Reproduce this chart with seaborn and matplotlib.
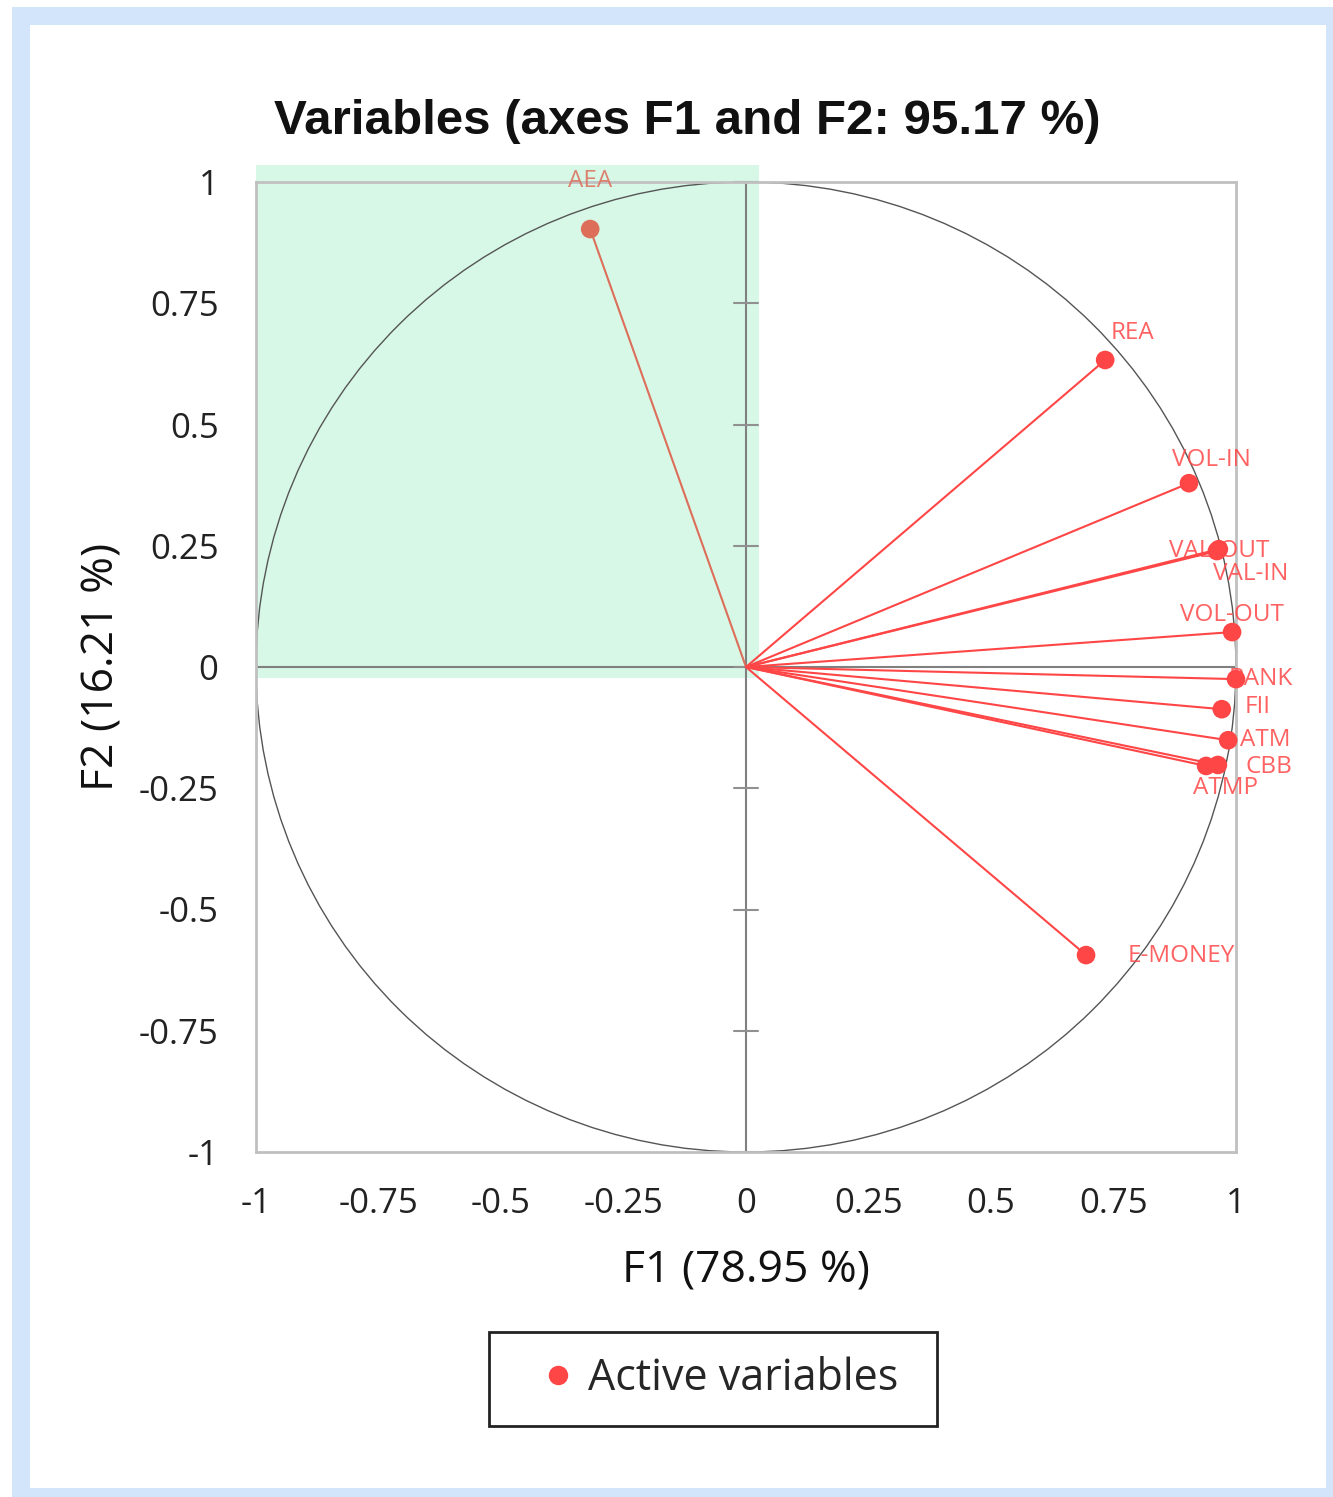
import numpy as np
import pandas as pd
import matplotlib
matplotlib.use("Agg")
import matplotlib.pyplot as plt
import seaborn as sns
from matplotlib.patches import Rectangle, Circle
from matplotlib.lines import Line2D

# loadings
variables = ["AEA", "REA", "VOL-IN", "VAL-OUT", "VAL-IN", "VOL-OUT",
             "BANK", "FII", "ATM", "CBB", "ATMP", "E-MONEY"]
f1 = [-0.318, 0.733, 0.904, 0.965, 0.961, 0.992, 1.000, 0.971, 0.984, 0.963, 0.939, 0.694]
f2 = [0.903, 0.633, 0.379, 0.243, 0.239, 0.072, -0.025, -0.087, -0.151, -0.202, -0.204, -0.594]
ticks = [-1, -0.75, -0.5, -0.25, 0, 0.25, 0.5, 0.75, 1]
tick_labels = ["-1", "-0.75", "-0.5", "-0.25", "0", "0.25", "0.5", "0.75", "1"]

df = pd.DataFrame({"var": variables, "F1": f1, "F2": f2})

# label offsets in pixels (style only)
offsets = {"AEA": (0, 48), "REA": (27, 27), "VOL-IN": (22, 23), "VAL-OUT": (0, -2),
           "VAL-IN": (34, -23), "VOL-OUT": (0, 17), "BANK": (25, 0), "FII": (36, 2),
           "ATM": (37, 0), "CBB": (51, -2), "ATMP": (19, -22), "E-MONEY": (95, -1)}
red = "#ff4646"
colors = {v: red for v in variables}
colors["AEA"] = "#dc6e5a"

sns.set_style("white")
plt.rcParams["font.family"] = ["Open Sans", "DejaVu Sans"]

fig = plt.figure(figsize=(13.33, 14.97), dpi=100)
W, H = 1333, 1497
fig.patches.append(Rectangle((12 / W, 0), 1 - 12 / W, 1 - 7 / H, transform=fig.transFigure,
                             facecolor="#d3e5fb", edgecolor="none", zorder=-10))
fig.patches.append(Rectangle((30 / W, 9 / H), (1326 - 30) / W, (1472 - 9) / H, transform=fig.transFigure,
                             facecolor="white", edgecolor="none", zorder=-9))

ax = fig.add_axes([256 / W, 1 - 1152 / H, 980 / W, 970 / H])
ax.set_facecolor("none")
ax.set_xlim(-1, 1)
ax.set_ylim(-1, 1)

# green quadrant highlight
ax.add_patch(Rectangle((-1, -0.023), 1.027, 1.058, facecolor="#d7f8e6", edgecolor="none",
                       zorder=0, clip_on=False))
ax.add_patch(Circle((0, 0), 1, fill=False, edgecolor="#555555", linewidth=1.0, zorder=1))
ax.axhline(0, color="#808080", linewidth=1.5, zorder=1)
ax.axvline(0, color="#808080", linewidth=1.5, zorder=1)
for t in ticks:
    ax.plot([-0.025, 0.025], [t, t], color="#909090", linewidth=1.5, zorder=1, clip_on=False)

for v, x, y in zip(variables, f1, f2):
    ax.plot([0, x], [0, y], color=colors[v], linewidth=1.5, zorder=2)

sns.scatterplot(data=df, x="F1", y="F2", hue="var", palette=colors, s=180,
                edgecolor="none", legend=False, ax=ax, zorder=4, clip_on=False)

for v, x, y in zip(variables, f1, f2):
    dx, dy = offsets[v]
    ax.annotate(v, (x, y), xytext=(dx * 0.72, dy * 0.72), textcoords="offset points",
                ha="center", va="center", color=colors[v], fontsize=17.5,
                alpha=0.85, zorder=3, annotation_clip=False)

for s in ax.spines.values():
    s.set_color("#c0c0c0")
    s.set_linewidth(2)

ax.set_xticks(ticks)
ax.set_xticklabels(tick_labels)
ax.set_yticks(ticks)
ax.set_yticklabels(tick_labels)
ax.tick_params(axis="both", length=0, labelsize=25, colors="#222222")
ax.tick_params(axis="x", pad=25)
ax.tick_params(axis="y", pad=27)

ax.set_xlabel("F1 (78.95 %)", fontsize=32, color="#111111", labelpad=20)
ax.set_ylabel("F2 (16.21 %)", fontsize=32, color="#111111", labelpad=10)

fig.text(687 / W, 1 - 122 / H, "Variables (axes F1 and F2: 95.17 %)", ha="center", va="center",
         fontsize=35.5, fontweight="bold", family="Liberation Sans", color="#111111")

# legend with a hand-sized box
handle = Line2D([], [], marker="o", linestyle="none", color=red, markersize=13)
fig.legend([handle], ["Active variables"], loc="center left",
           bbox_to_anchor=(528 / W, 1 - 1379 / H), fontsize=31, frameon=False,
           borderpad=0, handlelength=1.4, handletextpad=0.0, borderaxespad=0)
fig.patches.append(Rectangle((489 / W, 1 - 1426 / H), 448 / W, 94 / H, transform=fig.transFigure,
                             facecolor="none", edgecolor="#222222", linewidth=2))

fig.savefig("out.png", dpi=100)
